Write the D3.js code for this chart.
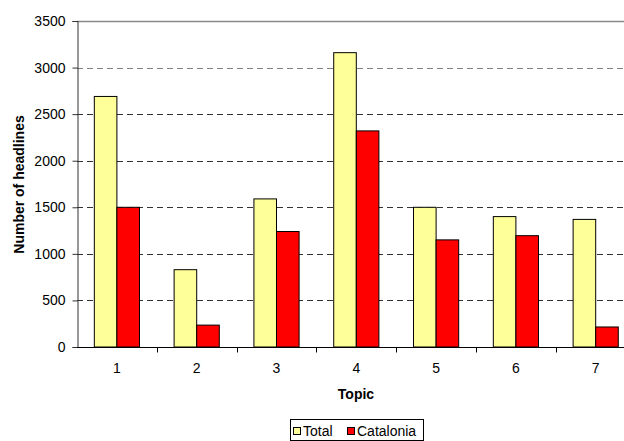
<!DOCTYPE html>
<html>
<head>
<meta charset="utf-8">
<script src="https://cdn.jsdelivr.net/npm/d3@7"></script>
<style>
  html, body { margin: 0; padding: 0; background: #fff; }
  svg { display: block; font-family: "Liberation Sans", Arial, sans-serif; }
</style>
</head>
<body>
<svg id="chart" width="624" height="441"></svg>
<script>
// Headline counts per topic
const topics = ["1", "2", "3", "4", "5", "6", "7"];
const totalValues = [2690, 830, 1590, 3160, 1500, 1400, 1370];
const cataloniaValues = [1500, 235, 1240, 2320, 1150, 1195, 215];
const seriesNames = ["Total", "Catalonia"];
const seriesColors = ["#FFFF99", "#FF0000"];
const yTicks = [0, 500, 1000, 1500, 2000, 2500, 3000, 3500];

const svg = d3.select("#chart");
const plotLeft = 77, plotTop = 21, plotBottom = 347;
const bandW = 79.8;
const plotRight = plotLeft + bandW * topics.length;
const fontSize = 14;

const x = d3.scaleBand().domain(topics).range([plotLeft, plotRight]).paddingInner(0).paddingOuter(0);
const y = d3.scaleLinear().domain([0, 3500]).range([plotBottom, plotTop]);

const barW = x.bandwidth() * 0.283;
const groupOffset = (x.bandwidth() - 2 * barW) / 2;

// Gridlines
svg.append("g").selectAll("line")
  .data(yTicks.filter(d => d > 0))
  .join("line")
  .attr("x1", plotLeft).attr("x2", plotRight)
  .attr("y1", d => Math.round(y(d)) + 0.5).attr("y2", d => Math.round(y(d)) + 0.5)
  .attr("stroke", d => d === 3500 ? "#8a8a8a" : (d === 3000 ? "#808080" : "#333"))
  .attr("stroke-width", d => d === 3500 ? 1.5 : 1)
  .attr("stroke-dasharray", d => d === 3500 ? null : "6,4");

// Bars
const rows = topics.map((t, i) => ({ topic: t, values: [totalValues[i], cataloniaValues[i]] }));
const groups = svg.append("g").selectAll("g")
  .data(rows).join("g")
  .attr("transform", d => `translate(${x(d.topic) + groupOffset},0)`);
groups.selectAll("rect")
  .data(d => d.values.map((v, j) => ({ v, j })))
  .join("rect")
  .attr("x", d => d.j * barW)
  .attr("y", d => y(d.v))
  .attr("width", barW)
  .attr("height", d => y(0) - y(d.v))
  .attr("fill", d => seriesColors[d.j])
  .attr("stroke", "#000")
  .attr("stroke-width", 1);

// Y axis
const yAxis = d3.axisLeft(y).tickValues(yTicks).tickSize(5).tickPadding(7).tickFormat(d3.format("d"));
const yg = svg.append("g").attr("transform", `translate(${plotLeft + 0.5},0)`).call(yAxis);
yg.select(".domain").attr("stroke", "#333");
yg.selectAll(".tick line").attr("stroke", "#333");
yg.selectAll("text").attr("font-size", fontSize).attr("fill", "#000").attr("font-family", "Liberation Sans, Arial, sans-serif");

// X axis with ticks at band boundaries
const xg = svg.append("g").attr("transform", `translate(0,${plotBottom + 0.5})`);
xg.append("line").attr("x1", plotLeft).attr("x2", plotRight).attr("stroke", "#000");
xg.selectAll("line.tk")
  .data(topics.slice(1)).join("line").attr("class", "tk")
  .attr("x1", d => Math.round(x(d)) + 0.5).attr("x2", d => Math.round(x(d)) + 0.5)
  .attr("y1", 0).attr("y2", 5).attr("stroke", "#000");
xg.selectAll("text")
  .data(topics).join("text")
  .attr("x", d => x(d) + x.bandwidth() / 2)
  .attr("y", 25.5)
  .attr("text-anchor", "middle")
  .attr("font-size", fontSize)
  .text(d => d);

// Axis titles
svg.append("text")
  .attr("x", 356).attr("y", 399)
  .attr("text-anchor", "middle")
  .attr("font-size", fontSize).attr("font-weight", "bold")
  .text("Topic");
svg.append("text")
  .attr("transform", "translate(24,184.5) rotate(-90)")
  .attr("text-anchor", "middle")
  .attr("font-size", fontSize).attr("font-weight", "bold")
  .text("Number of headlines");

// Legend
const lg = svg.append("g");
lg.append("rect").attr("x", 290.5).attr("y", 419.5).attr("width", 133).attr("height", 21)
  .attr("fill", "#fff").attr("stroke", "#000");
const items = [{ name: seriesNames[0], color: seriesColors[0], x: 293 }, { name: seriesNames[1], color: seriesColors[1], x: 347 }];
items.forEach(it => {
  lg.append("rect").attr("x", it.x + 0.5).attr("y", 427.5).attr("width", 7).attr("height", 7)
    .attr("fill", it.color).attr("stroke", "#000");
  lg.append("text").attr("x", it.x + 10).attr("y", 435.5).attr("font-size", fontSize).text(it.name);
});
</script>
</body>
</html>
